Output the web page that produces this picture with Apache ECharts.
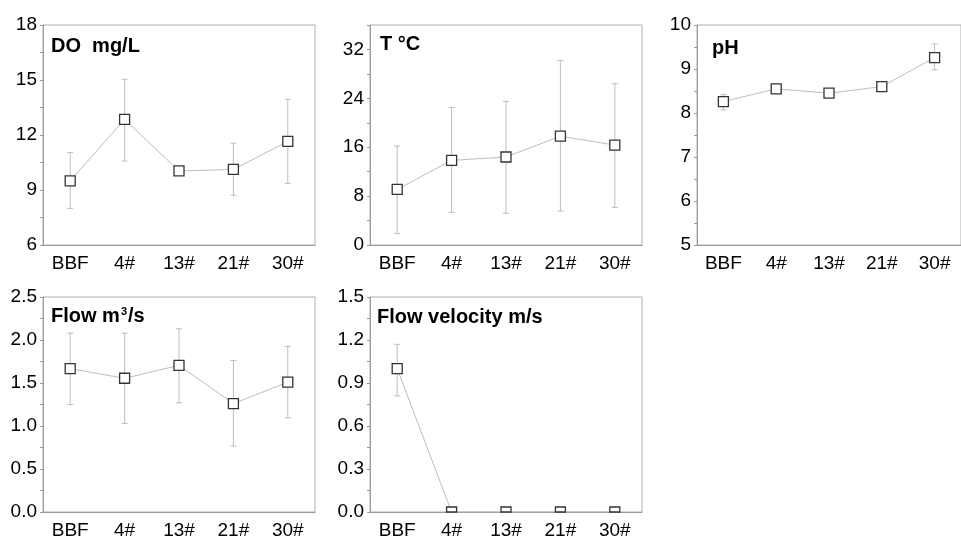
<!DOCTYPE html>
<html><head><meta charset="utf-8">
<script src="https://cdn.jsdelivr.net/npm/echarts@6/dist/echarts.min.js"></script>
<style>html,body{margin:0;padding:0;background:#fff}#c{width:961px;height:540px}</style>
</head><body><div id="c"></div>
<script>
const categories = ['BBF', '4#', '13#', '21#', '30#'];

const doMean = [9.5, 12.85, 10.04, 10.12, 11.65];
const doLow  = [8.0, 10.58, 9.95, 8.71, 9.36];
const doHigh = [11.04, 15.04, 10.12, 11.55, 13.95];

const tMean = [9.1, 13.85, 14.4, 17.8, 16.35];
const tLow  = [1.9, 5.35, 5.2, 5.56, 6.16];
const tHigh = [16.2, 22.5, 23.5, 30.2, 26.4];

const phMean = [8.26, 8.55, 8.45, 8.6, 9.26];
const phLow  = [8.07, 8.5, 8.42, 8.52, 8.98];
const phHigh = [8.42, 8.6, 8.48, 8.66, 9.57];

const flowMean = [1.667, 1.555, 1.705, 1.26, 1.51];
const flowLow  = [1.25, 1.03, 1.27, 0.766, 1.095];
const flowHigh = [2.08, 2.08, 2.13, 1.76, 1.925];

const velMean = [1.0, 0, 0, 0, 0];
const velLow  = [0.81, 0, 0, 0, 0];
const velHigh = [1.17, 0.02, 0.02, 0.02, 0.02];

const titles = ['DO  mg/L', 'T °C', 'pH', 'Flow m{sup|3}/s', 'Flow velocity m/s'];

const panels = [
  {mean: doMean, low: doLow, high: doHigh, min: 6, max: 18, interval: 3, dec: 0, left: 43, top: 25, tl: 51, tt: 36},
  {mean: tMean, low: tLow, high: tHigh, min: 0, max: 36, interval: 8, dec: 0, left: 370, top: 25, tl: 380, tt: 34.5, hideMax: true},
  {mean: phMean, low: phLow, high: phHigh, min: 5, max: 10, interval: 1, dec: 0, left: 697, top: 25, tl: 712, tt: 38},
  {mean: flowMean, low: flowLow, high: flowHigh, min: 0, max: 2.5, interval: 0.5, dec: 1, left: 43, top: 297, tl: 51, tt: 306},
  {mean: velMean, low: velLow, high: velHigh, min: 0, max: 1.5, interval: 0.3, dec: 1, left: 370, top: 297, tl: 377, tt: 307.5}
];

const FONT = '"Liberation Sans", Arial, sans-serif';
const AX = '#9a9a9a';

const grid = [], xAxis = [], yAxis = [], series = [], title = [];
panels.forEach((p, i) => {
  grid.push({left: p.left, top: p.top, width: 272, height: 220, show: true, borderColor: '#b0b0b0', borderWidth: 1, backgroundColor: 'transparent'});
  xAxis.push({
    type: 'category', gridIndex: i, data: categories, boundaryGap: true,
    axisLine: {lineStyle: {color: AX, width: 1}},
    axisTick: {alignWithLabel: true, inside: true, length: 4, lineStyle: {color: AX}},
    axisLabel: {color: '#000', fontSize: 19, fontFamily: FONT, margin: 9, interval: 0}
  });
  yAxis.push({
    type: 'value', gridIndex: i, min: p.min, max: p.max, interval: p.interval,
    axisLine: {show: true, lineStyle: {color: AX, width: 1}},
    axisTick: {show: true, inside: false, length: 3, lineStyle: {color: AX}},
    minorTick: {show: true, splitNumber: 2, length: 3, lineStyle: {color: AX}},
    splitLine: {show: false},
    axisLabel: {color: '#000', fontSize: 19, fontFamily: FONT, margin: 6, showMaxLabel: !p.hideMax,
      formatter: v => v.toFixed(p.dec)}
  });
  title.push({
    text: titles[i], left: p.tl, top: p.tt, padding: 0,
    textStyle: {fontSize: 20, fontWeight: 'bold', fontFamily: FONT, color: '#000',
      rich: {sup: {fontSize: 11, fontWeight: 'bold', fontFamily: FONT, verticalAlign: 'top', padding: [0, 1, 10, 1], color: '#000'}}}
  });
  // connecting line
  series.push({
    type: 'line', xAxisIndex: i, yAxisIndex: i, z: 2, data: p.mean,
    symbol: 'none', lineStyle: {color: '#bdbdbd', width: 1},
    emphasis: {disabled: true}, animation: false, silent: true
  });
  // error bars + square markers (clipped to plot area)
  const errData = categories.map((c, k) => [k, p.mean[k], p.low[k], p.high[k]]);
  series.push({
    type: 'custom', xAxisIndex: i, yAxisIndex: i, z: 3, data: errData, silent: true,
    renderItem: (params, api) => {
      const pt = api.coord([api.value(0), api.value(1)]);
      const lo = api.coord([api.value(0), api.value(2)]);
      const hi = api.coord([api.value(0), api.value(3)]);
      const w = 3, s = 10;
      const st = {stroke: '#bdbdbd', lineWidth: 1};
      const cs = params.coordSys;
      const rect = echarts.graphic.clipRectByRect(
        {x: pt[0] - s / 2, y: pt[1] - s / 2, width: s, height: s},
        {x: cs.x, y: cs.y, width: cs.width, height: cs.height});
      const children = [
        {type: 'line', shape: {x1: hi[0], y1: hi[1], x2: lo[0], y2: lo[1]}, style: st},
        {type: 'line', shape: {x1: hi[0] - w, y1: hi[1], x2: hi[0] + w, y2: hi[1]}, style: st},
        {type: 'line', shape: {x1: lo[0] - w, y1: lo[1], x2: lo[0] + w, y2: lo[1]}, style: st}
      ];
      if (rect) {
        children.push({type: 'rect', shape: rect, style: {fill: '#fff', stroke: '#333', lineWidth: 1.3}});
      }
      return {type: 'group', children};
    }
  });
});

const chart = echarts.init(document.getElementById('c'), null, {renderer: 'canvas'});
chart.setOption({animation: false, backgroundColor: '#fff', title, grid, xAxis, yAxis, series});
</script>
</body></html>
